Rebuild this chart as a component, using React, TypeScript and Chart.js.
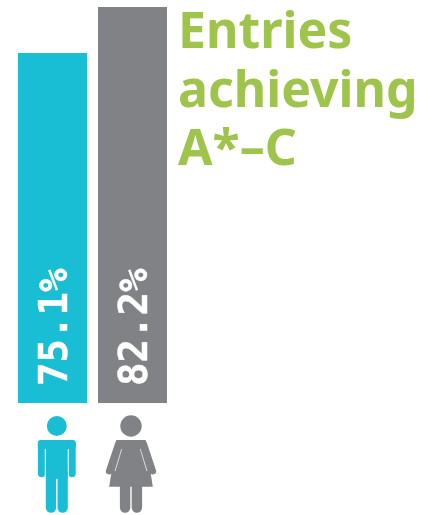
import React, { useEffect, useRef } from "react";
import { Chart, registerables } from "chart.js";

Chart.register(...registerables);

const categories = ["Boys", "Girls"];
const values = [75.1, 82.2];
const valueLabels = ["75.1%", "82.2%"];
const barColors = ["#19BDD4", "#808285"];
const titleLines = ["Entries", "achieving", "A*–C"];
const titleColor = "#9FC44C";
const axisMin = 21.08;
const axisMax = 82.2;

function whiteLine(ctx: CanvasRenderingContext2D, x1: number, y1: number, x2: number, y2: number) {
  ctx.save();
  ctx.strokeStyle = "#FFFFFF";
  ctx.lineWidth = 0.7;
  ctx.lineCap = "butt";
  ctx.beginPath();
  ctx.moveTo(x1, y1);
  ctx.lineTo(x2, y2);
  ctx.stroke();
  ctx.restore();
}

function drawMan(ctx: CanvasRenderingContext2D, cx: number, top: number, color: string) {
  ctx.fillStyle = color;
  ctx.strokeStyle = color;
  ctx.lineCap = "round";
  ctx.lineJoin = "round";
  ctx.beginPath();
  ctx.arc(cx, top + 23, 10, 0, Math.PI * 2);
  ctx.fill();
  // shoulders and torso
  ctx.beginPath();
  ctx.roundRect(cx - 19, top + 37, 38, 9, 3);
  ctx.fill();
  ctx.fillRect(cx - 11, top + 40, 22, 36);
  // arms
  ctx.lineWidth = 7.4;
  for (const s of [-1, 1]) {
    ctx.beginPath();
    ctx.moveTo(cx + s * 15.2, top + 42);
    ctx.lineTo(cx + s * 15.2, top + 70.5);
    ctx.stroke();
  }
  // legs
  ctx.lineWidth = 10.4;
  for (const s of [-1, 1]) {
    ctx.beginPath();
    ctx.moveTo(cx + s * 5.8, top + 70);
    ctx.lineTo(cx + s * 5.8, top + 104.5);
    ctx.stroke();
  }
  for (const s of [-1, 1]) {
    whiteLine(ctx, cx + s * 11.6, top + 46, cx + s * 11.6, top + 76);
  }
  whiteLine(ctx, cx, top + 76, cx, top + 110);
}

function drawWoman(ctx: CanvasRenderingContext2D, cx: number, top: number, color: string) {
  ctx.fillStyle = color;
  ctx.strokeStyle = color;
  ctx.lineCap = "round";
  ctx.lineJoin = "round";
  ctx.beginPath();
  ctx.arc(cx, top + 23, 10.7, 0, Math.PI * 2);
  ctx.fill();
  // dress
  ctx.beginPath();
  ctx.moveTo(cx - 14.5, top + 37);
  ctx.lineTo(cx + 14.5, top + 37);
  ctx.lineTo(cx + 21.8, top + 83.7);
  ctx.lineTo(cx - 21.8, top + 83.7);
  ctx.closePath();
  ctx.fill();
  // arms
  ctx.lineWidth = 6.8;
  for (const s of [-1, 1]) {
    ctx.beginPath();
    ctx.moveTo(cx + s * 12.5, top + 40.5);
    ctx.lineTo(cx + s * 21.7, top + 68);
    ctx.stroke();
  }
  // legs
  ctx.lineWidth = 10.4;
  for (const s of [-1, 1]) {
    ctx.beginPath();
    ctx.moveTo(cx + s * 5.9, top + 80);
    ctx.lineTo(cx + s * 5.9, top + 104.5);
    ctx.stroke();
  }
  for (const s of [-1, 1]) {
    whiteLine(ctx, cx + s * 9.3, top + 46, cx + s * 16, top + 68);
  }
}

const decorations = {
  id: "decorations",
  afterDatasetsDraw(chart: Chart) {
    const { ctx } = chart;
    const meta = chart.getDatasetMeta(0);
    const yBase = chart.scales.y.bottom;
    ctx.save();
    meta.data.forEach((bar: any, i: number) => {
      ctx.save();
      ctx.translate(bar.x + 14.5, yBase - 17);
      ctx.rotate(-Math.PI / 2);
      ctx.fillStyle = "#FFFFFF";
      ctx.strokeStyle = "#FFFFFF";
      ctx.lineWidth = 0.4;
      ctx.font = 'bold 39px "DejaVu Sans Mono"';
      ctx.textAlign = "left";
      ctx.textBaseline = "alphabetic";
      ctx.fillText(valueLabels[i], 0, 0);
      ctx.strokeText(valueLabels[i], 0, 0);
      ctx.restore();
      if (i === 0) drawMan(ctx, bar.x + 4.3, yBase, barColors[i]);
      else drawWoman(ctx, bar.x - 1.5, yBase, barColors[i]);
    });
    ctx.fillStyle = titleColor;
    ctx.font = 'bold 50px "Noto Sans"';
    ctx.textAlign = "left";
    ctx.textBaseline = "alphabetic";
    titleLines.forEach((line, i) => {
      ctx.fillText(line, 178, 48 + i * 58.5);
    });
    ctx.restore();
  },
};

export default function App() {
  const ref = useRef<HTMLCanvasElement>(null);
  useEffect(() => {
    const chart = new Chart(ref.current!, {
      type: "bar",
      data: {
        labels: categories,
        datasets: [
          {
            data: values,
            backgroundColor: barColors,
            borderWidth: 0,
            barPercentage: 69 / 80,
            categoryPercentage: 1,
          },
        ],
      },
      options: {
        responsive: false,
        animation: false,
        layout: { padding: { top: 7, bottom: 112, left: 12.5, right: 262.5 } },
        plugins: { legend: { display: false }, tooltip: { enabled: false } },
        scales: {
          x: { display: false },
          y: { display: false, min: axisMin, max: axisMax },
        },
      },
      plugins: [decorations],
    });
    return () => chart.destroy();
  }, []);
  return (
    <canvas
      ref={ref}
      width={435}
      height={515}
      style={{ position: "absolute", left: 0, top: 0, width: 435, height: 515 }}
    />
  );
}
